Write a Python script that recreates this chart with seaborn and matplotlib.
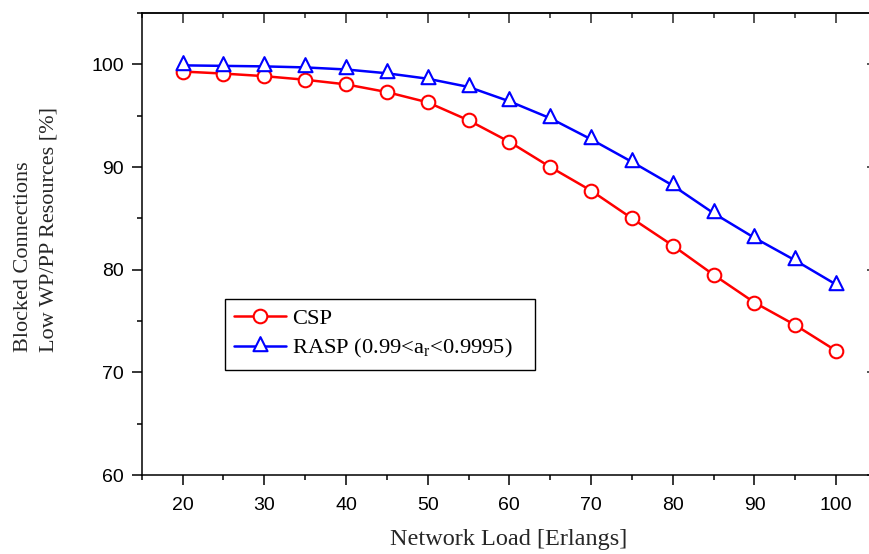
import matplotlib
matplotlib.use("Agg")
import matplotlib.pyplot as plt
from matplotlib.path import Path
from matplotlib.ticker import MultipleLocator
import seaborn as sns

# ---- data ----
load = [20, 25, 30, 35, 40, 45, 50, 55, 60, 65, 70, 75, 80, 85, 90, 95, 100]
csp = [99.3, 99.1, 98.85, 98.5, 98.05, 97.3, 96.3, 94.55, 92.45, 90.0, 87.7,
       85.0, 82.35, 79.5, 76.8, 74.6, 72.1]
rasp = [99.9, 99.85, 99.8, 99.7, 99.5, 99.13, 98.6, 97.8, 96.4, 94.75, 92.7,
        90.5, 88.2, 85.5, 83.1, 80.9, 78.55]
xticks = [20, 30, 40, 50, 60, 70, 80, 90, 100]
yticks = [60, 70, 80, 90, 100]
labels = ["CSP", "RASP (0.99<a$_\\mathregular{r}$<0.9995)"]

sns.set_theme(style="ticks")
plt.rcParams["font.family"] = ["Liberation Serif", "DejaVu Serif"]
plt.rcParams["mathtext.fontset"] = "custom"
plt.rcParams["mathtext.rm"] = "Liberation Serif"

W, H = 869, 554
fig = plt.figure(figsize=(W / 100, H / 100), dpi=100)
x0, x1 = 141.7, 877.0
ytop, ybot = 13.0, 475.0
ax = fig.add_axes([x0 / W, 1 - ybot / H, (x1 - x0) / W, (ybot - ytop) / H])

# triangle marker centred on its centroid (Origin style)
tri = Path([(0, 2 / 3), (-0.5, -1 / 3), (0.5, -1 / 3), (0, 2 / 3)], closed=True)

sns.lineplot(x=load, y=csp, ax=ax, color="#ff0000", lw=1.8, marker="o",
             markersize=9.8, markerfacecolor="white", markeredgecolor="#ff0000",
             markeredgewidth=1.5, label=labels[0])
sns.lineplot(x=load, y=rasp, ax=ax, color="#0000ff", lw=1.8, marker=tri,
             markersize=13.5, markerfacecolor="white", markeredgecolor="#0000ff",
             markeredgewidth=1.5, label=labels[1])

ax.set_xlim(15, 105)
ax.set_ylim(60, 105)
ax.set_xticks(xticks)
ax.set_yticks(yticks)
ax.xaxis.set_minor_locator(MultipleLocator(5))
ax.yaxis.set_minor_locator(MultipleLocator(5))

ax.tick_params(which="both", direction="out", width=1.1, color="black",
               top=False, right=False)
ax.tick_params(which="major", length=7.2)
ax.tick_params(which="minor", length=3.6)
ax.tick_params(axis="x", pad=8.5)
ax.tick_params(axis="y", pad=5.5)
for lab in ax.get_xticklabels() + ax.get_yticklabels():
    lab.set_fontfamily("Liberation Sans")
    lab.set_fontsize(14)
    lab.set_color("black")

for sp in ax.spines.values():
    sp.set_linewidth(1.1)
    sp.set_color("black")
    sp.set_visible(True)

secx = ax.secondary_xaxis("top")
secx.set_xticks(xticks)
secx.xaxis.set_minor_locator(MultipleLocator(5))
secx.tick_params(which="both", direction="in", width=1.1, labeltop=False)
secx.tick_params(which="major", length=7.2)
secx.tick_params(which="minor", length=3.6)
secx.spines["top"].set_linewidth(1.1)

secy = ax.secondary_yaxis("right")
secy.set_yticks(yticks)
secy.yaxis.set_minor_locator(MultipleLocator(5))
secy.tick_params(which="both", direction="in", width=1.1, labelright=False)
secy.tick_params(which="major", length=7.2)
secy.tick_params(which="minor", length=3.6)
secy.spines["right"].set_linewidth(1.1)

ax.set_xlabel("")
ax.set_ylabel("")
fig.text(509 / W, 1 - 539 / H, "Network Load [Erlangs]", ha="center",
         va="center", fontsize=17.5, family="Liberation Serif")
fig.text(36.5 / W, 1 - 230 / H, "Blocked Connections\nLow WP/PP Resources [%]",
         rotation=90, ha="center", va="center", multialignment="left",
         fontsize=16, family="Liberation Serif", linespacing=1.45)

leg = ax.legend(loc="upper left",
                bbox_to_anchor=(225 / W, 1 - 367 / H, 310 / W, 68 / H),
                bbox_transform=fig.transFigure, mode="expand",
                frameon=True, fancybox=False,
                edgecolor="black", framealpha=1, fontsize=16.2,
                handlelength=2.3, handletextpad=0.25, borderpad=0.42,
                labelspacing=0.35, borderaxespad=0)
leg.get_frame().set_linewidth(1.0)
for t in leg.get_texts():
    t.set_color("black")

fig.savefig("out.png", dpi=100)
